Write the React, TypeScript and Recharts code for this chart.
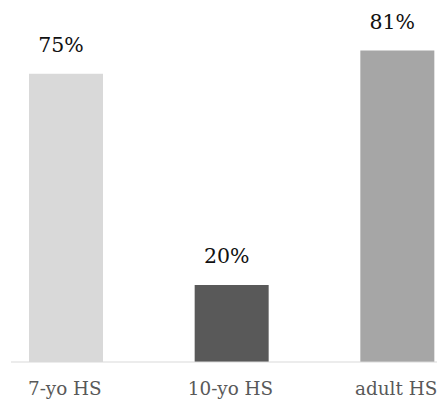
import React from 'react';
import { BarChart, Bar, XAxis, YAxis, Cell, LabelList } from 'recharts';

const categories = ['7-yo HS', '10-yo HS', 'adult HS'];
const values = [75, 20, 81];
const barColors = ['#d9d9d9', '#595959', '#a6a6a6'];

const data = categories.map((name, i) => ({ name, value: values[i] }));

const FONT = 'DejaVu Serif';

const Tick = (props: any) => {
  const { x, y, payload } = props;
  return (
    <g transform={`translate(${x - 1},${y + 25}) scale(1.02,1)`}>
      <text x={0} y={0} textAnchor="middle" fontFamily={FONT} fontSize={18} fill="#595959">
        {payload.value}
      </text>
    </g>
  );
};

const ValueLabel = (props: any) => {
  const { x, y, width, value } = props;
  return (
    <text x={x + width / 2 - 5} y={y - 22} textAnchor="middle" fontFamily={FONT} fontSize={20.5} fill="#111">
      {`${value}%`}
    </text>
  );
};

export default function App() {
  return (
    <div style={{ position: 'absolute', left: 0, top: 0, width: 437, height: 400, overflow: 'hidden', background: '#fff' }}>
      <BarChart width={480} height={400} data={data} margin={{ top: 16, right: 0, left: 11, bottom: 0 }}>
        <XAxis
          dataKey="name"
          padding={{ left: -28, right: 0 }}
          axisLine={{ stroke: '#d9d9d9', strokeWidth: 1 }}
          tickLine={false}
          height={38}
          tick={<Tick />}
          interval={0}
        />
        <YAxis hide domain={[0, 90]} />
        <Bar dataKey="value" barSize={74} isAnimationActive={false}>
          {data.map((d, i) => (
            <Cell key={d.name} fill={barColors[i]} />
          ))}
          <LabelList dataKey="value" content={<ValueLabel />} />
        </Bar>
      </BarChart>
    </div>
  );
}
